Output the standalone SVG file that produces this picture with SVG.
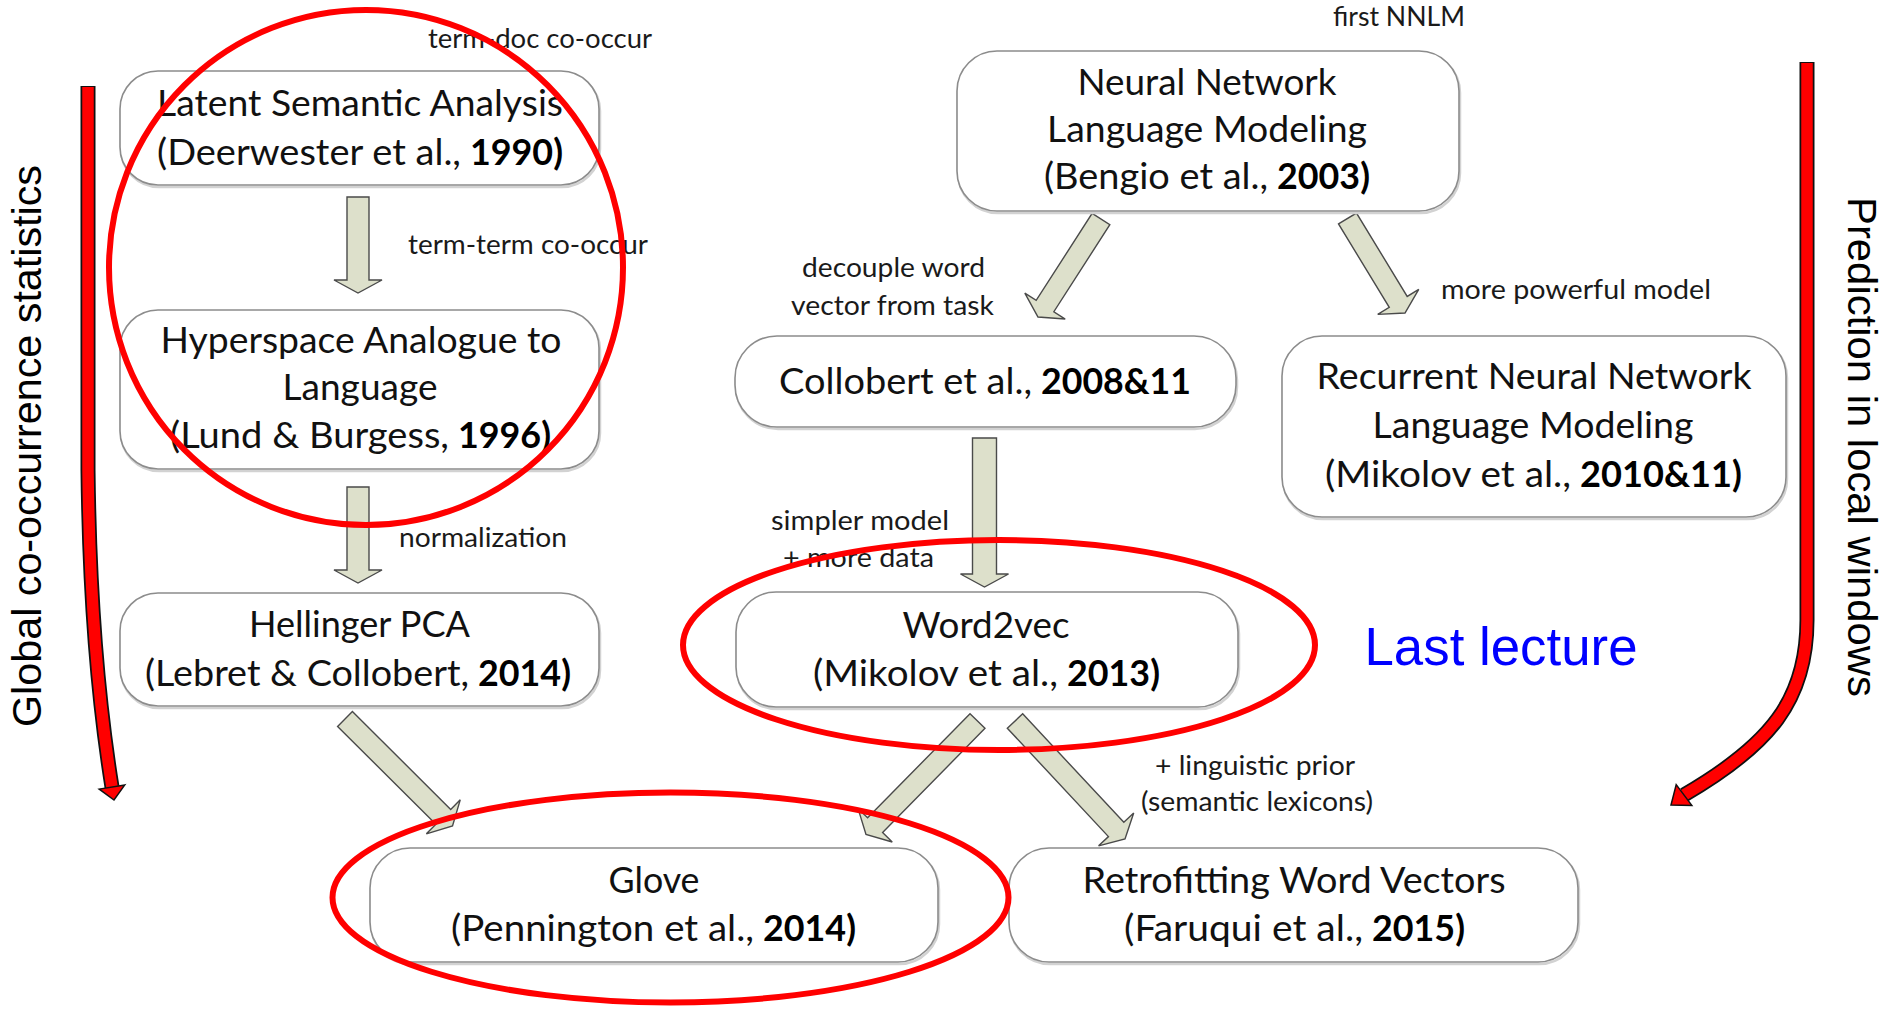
<svg xmlns="http://www.w3.org/2000/svg" width="1883" height="1009" viewBox="0 0 1883 1009">
  <defs>
    <style>
      .box { fill: #ffffff; stroke: #8c8c8c; stroke-width: 1.6; }
      .shadow { fill: none; stroke: #d2d2d2; stroke-width: 2.5; }
      .nt { font-family: Lato, "Open Sans", sans-serif; font-size: 37px; fill: #111111; text-anchor: middle; }
      .ns { font-family: Lato, "Open Sans", sans-serif; font-size: 37px; fill: #111111; text-anchor: start; }
      .nb { font-family: Lato, "Open Sans", sans-serif; font-size: 37px; fill: #000000; font-weight: bold; text-anchor: start; }
      .lbl { font-family: Lato, "Open Sans", sans-serif; font-size: 26px; fill: #1a1a1a; }
      .blk { fill: #dde0cb; stroke: #4a4a4a; stroke-width: 1.4; stroke-linejoin: miter; }
      .side { font-family: "Liberation Sans", Arial, sans-serif; font-size: 41px; fill: #000000; text-anchor: middle; }
      .ring { fill: none; stroke: #ff0000; stroke-width: 6; }
      .redout { fill: none; stroke: #111111; stroke-width: 15; }
      .redin { fill: none; stroke: #ff0000; stroke-width: 11.5; }
    </style>
  </defs>

  <rect width="1883" height="1009" fill="#ffffff"/>

  <!-- side axis: global co-occurrence statistics -->
  <g id="axis-left">
    <path class="redout" d="M 88 86 L 88 470 Q 90 650 112 787"/>
    <path class="redin" d="M 88 87 L 88 470 Q 90 650 112 787"/>
    <polygon points="124.8,784.9 99.2,789.1 114,800" fill="#ff0000" stroke="#111111" stroke-width="1.5"/>
    <text class="side" transform="translate(41,446) rotate(-90)" textLength="562" lengthAdjust="spacingAndGlyphs">Global co-occurrence statistics</text>
  </g>

  <!-- side axis: prediction in local windows -->
  <g id="axis-right">
    <path class="redout" d="M 1807 62 L 1807 620 C 1807 700 1770 745 1684 795"/>
    <path class="redin" d="M 1807 63 L 1807 620 C 1807 700 1770 745 1684 795"/>
    <polygon points="1691.8,805.4 1676.2,784.6 1671,805" fill="#ff0000" stroke="#111111" stroke-width="1.5"/>
    <text class="side" transform="translate(1848,447) rotate(90)" textLength="500" lengthAdjust="spacingAndGlyphs">Prediction in local windows</text>
  </g>

  <!-- block arrows between nodes -->
  <g id="connectors">
    <path class="blk" transform="translate(358,197)" d="M -11 0 L 11 0 L 11 83 L 24 83 L 0 96 L -24 83 L -11 83 Z"/>
    <path class="blk" transform="translate(358,487)" d="M -11 0 L 11 0 L 11 83 L 24 83 L 0 96 L -24 83 L -11 83 Z"/>
    <path class="blk" transform="translate(984.5,438)" d="M -12 0 L 12 0 L 12 136 L 24 136 L 0 149 L -24 136 L -12 136 Z"/>
    <path class="blk" transform="translate(1101,219) rotate(32.74)" d="M -10.5 0 L 10.5 0 L 10.5 103.5 L 24 103.5 L 0 116.5 L -24 103.5 L -10.5 103.5 Z"/>
    <path class="blk" transform="translate(1347.5,218.5) rotate(-31.32)" d="M -10.5 0 L 10.5 0 L 10.5 97.6 L 24 97.6 L 0 110.6 L -24 97.6 L -10.5 97.6 Z"/>
    <path class="blk" transform="translate(345,719) rotate(-45.13)" d="M -10.5 0 L 10.5 0 L 10.5 138.7 L 24 138.7 L 0 151.7 L -24 138.7 L -10.5 138.7 Z"/>
    <path class="blk" transform="translate(977.5,721) rotate(44.49)" d="M -10.5 0 L 10.5 0 L 10.5 146.1 L 24 146.1 L 0 159.1 L -24 146.1 L -10.5 146.1 Z"/>
    <path class="blk" transform="translate(1015,721) rotate(-43.0)" d="M -10.5 0 L 10.5 0 L 10.5 148.3 L 24 148.3 L 0 161.3 L -24 148.3 L -10.5 148.3 Z"/>

    <text class="lbl" x="428" y="48" textLength="224" lengthAdjust="spacingAndGlyphs">term-doc co-occur</text>
    <text class="lbl" x="408" y="254" textLength="240" lengthAdjust="spacingAndGlyphs">term-term co-occur</text>
    <text class="lbl" x="399" y="547" textLength="168" lengthAdjust="spacingAndGlyphs">normalization</text>
    <text class="lbl" x="1333" y="26" textLength="132" lengthAdjust="spacingAndGlyphs">first NNLM</text>
    <text class="lbl" x="802" y="277" textLength="183" lengthAdjust="spacingAndGlyphs">decouple word</text>
    <text class="lbl" x="791" y="315" textLength="203" lengthAdjust="spacingAndGlyphs">vector from task</text>
    <text class="lbl" x="1441" y="299" textLength="270" lengthAdjust="spacingAndGlyphs">more powerful model</text>
    <text class="lbl" x="771" y="530" textLength="178" lengthAdjust="spacingAndGlyphs">simpler model</text>
    <text class="lbl" x="783" y="567" textLength="151" lengthAdjust="spacingAndGlyphs">+ more data</text>
    <text class="lbl" x="1155" y="775" textLength="200" lengthAdjust="spacingAndGlyphs">+ linguistic prior</text>
    <text class="lbl" x="1141" y="811" textLength="232" lengthAdjust="spacingAndGlyphs">(semantic lexicons)</text>
  </g>

  <g id="lsa">
    <rect class="shadow" x="121" y="73" width="479" height="114" rx="38"/>
    <rect class="box" x="120" y="71" width="479" height="114" rx="38"/>
    <text class="nt" x="360" y="116" textLength="406" lengthAdjust="spacingAndGlyphs">Latent Semantic Analysis</text>
    <text class="ns" x="157" y="165" textLength="304" lengthAdjust="spacingAndGlyphs">(Deerwester et al.,</text>
    <text class="nb" x="470" y="165" textLength="93" lengthAdjust="spacingAndGlyphs">1990)</text>
  </g>

  <g id="hal">
    <rect class="shadow" x="121" y="312" width="479" height="159" rx="38"/>
    <rect class="box" x="120" y="310" width="479" height="159" rx="38"/>
    <text class="nt" x="361" y="353" textLength="401" lengthAdjust="spacingAndGlyphs">Hyperspace Analogue to</text>
    <text class="nt" x="360" y="400" textLength="155" lengthAdjust="spacingAndGlyphs">Language</text>
    <text class="ns" x="170" y="448" textLength="279" lengthAdjust="spacingAndGlyphs">(Lund &amp; Burgess,</text>
    <text class="nb" x="458" y="448" textLength="93" lengthAdjust="spacingAndGlyphs">1996)</text>
  </g>

  <g id="hellinger">
    <rect class="shadow" x="121" y="595" width="479" height="113" rx="38"/>
    <rect class="box" x="120" y="593" width="479" height="113" rx="38"/>
    <text class="nt" x="359.5" y="637" textLength="221" lengthAdjust="spacingAndGlyphs">Hellinger PCA</text>
    <text class="ns" x="145" y="686" textLength="324" lengthAdjust="spacingAndGlyphs">(Lebret &amp; Collobert,</text>
    <text class="nb" x="478" y="686" textLength="93" lengthAdjust="spacingAndGlyphs">2014)</text>
  </g>

  <g id="nnlm">
    <rect class="shadow" x="958" y="53" width="502" height="160" rx="40"/>
    <rect class="box" x="957" y="51" width="502" height="160" rx="40"/>
    <text class="nt" x="1207" y="95" textLength="259" lengthAdjust="spacingAndGlyphs">Neural Network</text>
    <text class="nt" x="1207" y="142" textLength="320" lengthAdjust="spacingAndGlyphs">Language Modeling</text>
    <text class="ns" x="1044" y="189" textLength="224" lengthAdjust="spacingAndGlyphs">(Bengio et al.,</text>
    <text class="nb" x="1277" y="189" textLength="93" lengthAdjust="spacingAndGlyphs">2003)</text>
  </g>

  <g id="collobert">
    <rect class="shadow" x="736" y="338" width="501" height="91" rx="42"/>
    <rect class="box" x="735" y="336" width="501" height="91" rx="42"/>
    <text class="ns" x="779" y="394" textLength="253" lengthAdjust="spacingAndGlyphs">Collobert et al.,</text>
    <text class="nb" x="1041" y="394" textLength="150" lengthAdjust="spacingAndGlyphs">2008&amp;11</text>
  </g>

  <g id="rnnlm">
    <rect class="shadow" x="1283" y="338" width="504" height="181" rx="40"/>
    <rect class="box" x="1282" y="336" width="504" height="181" rx="40"/>
    <text class="nt" x="1534" y="389" textLength="435" lengthAdjust="spacingAndGlyphs">Recurrent Neural Network</text>
    <text class="nt" x="1533" y="438" textLength="321" lengthAdjust="spacingAndGlyphs">Language Modeling</text>
    <text class="ns" x="1325" y="487" textLength="246" lengthAdjust="spacingAndGlyphs">(Mikolov et al.,</text>
    <text class="nb" x="1580" y="487" textLength="162" lengthAdjust="spacingAndGlyphs">2010&amp;11)</text>
  </g>

  <g id="word2vec">
    <rect class="shadow" x="737" y="594" width="502" height="115" rx="40"/>
    <rect class="box" x="736" y="592" width="502" height="115" rx="40"/>
    <text class="nt" x="986" y="638" textLength="167" lengthAdjust="spacingAndGlyphs">Word2vec</text>
    <text class="ns" x="813" y="686" textLength="245" lengthAdjust="spacingAndGlyphs">(Mikolov et al.,</text>
    <text class="nb" x="1067" y="686" textLength="93" lengthAdjust="spacingAndGlyphs">2013)</text>
  </g>

  <g id="glove">
    <rect class="shadow" x="371" y="850" width="568" height="114" rx="40"/>
    <rect class="box" x="370" y="848" width="568" height="114" rx="40"/>
    <text class="nt" x="654" y="893" textLength="91" lengthAdjust="spacingAndGlyphs">Glove</text>
    <text class="ns" x="451" y="941" textLength="303" lengthAdjust="spacingAndGlyphs">(Pennington et al.,</text>
    <text class="nb" x="763" y="941" textLength="93" lengthAdjust="spacingAndGlyphs">2014)</text>
  </g>

  <g id="retrofitting">
    <rect class="shadow" x="1010" y="850" width="569" height="114" rx="40"/>
    <rect class="box" x="1009" y="848" width="569" height="114" rx="40"/>
    <text class="nt" x="1294" y="893" textLength="423" lengthAdjust="spacingAndGlyphs">Retrofitting Word Vectors</text>
    <text class="ns" x="1124" y="941" textLength="239" lengthAdjust="spacingAndGlyphs">(Faruqui et al.,</text>
    <text class="nb" x="1372" y="941" textLength="93" lengthAdjust="spacingAndGlyphs">2015)</text>
  </g>

  <!-- highlight rings -->
  <g id="highlights">
    <ellipse class="ring" cx="366" cy="267.5" rx="257" ry="257.5"/>
    <ellipse class="ring" cx="999" cy="645" rx="316" ry="105"/>
    <ellipse class="ring" cx="670.5" cy="897.5" rx="338" ry="105"/>
  </g>

  <text id="last-lecture" x="1501" y="665" font-family="'Liberation Sans', Arial, sans-serif" font-size="53" fill="#0000ff" text-anchor="middle" textLength="273" lengthAdjust="spacingAndGlyphs">Last lecture</text>
</svg>
